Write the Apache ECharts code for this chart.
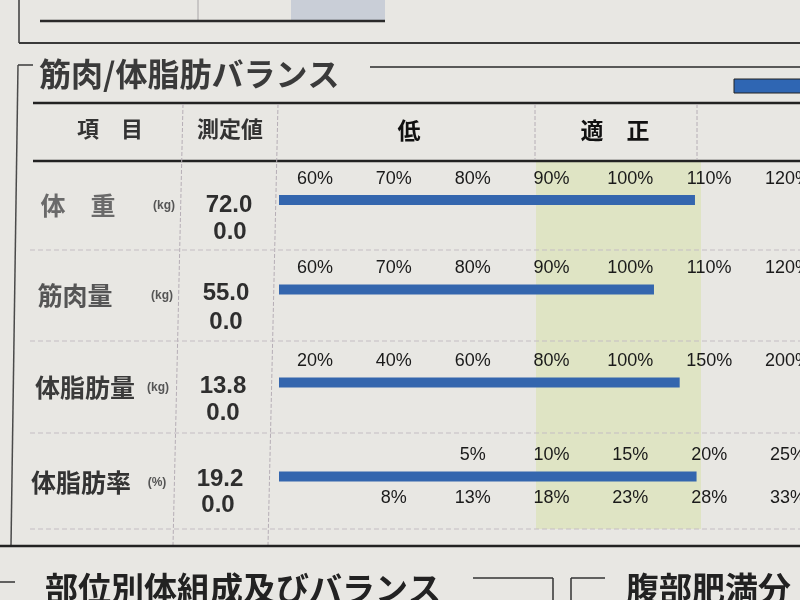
<!DOCTYPE html>
<html><head><meta charset="utf-8">
<script src="https://cdn.jsdelivr.net/npm/echarts@6/dist/echarts.min.js"></script>
<style>html,body{margin:0;padding:0;background:#e8e7e3}#c{width:800px;height:600px}</style>
</head><body><div id="c"></div>
<script>
// ---------- data ----------
const sectionTitle = '筋肉/体脂肪バランス';
const headerItem = '項　目';
const headerValue = '測定値';
const headerLow = '低';
const headerNormal = '適　正';
const items = ['体　重', '筋肉量', '体脂肪量', '体脂肪率'];
const units = ['(kg)', '(kg)', '(kg)', '(%)'];
const measured = ['72.0', '55.0', '13.8', '19.2'];
const previous = ['0.0', '0.0', '0.0', '0.0'];
// bar values, in each row's own scale (% of standard, last row: body-fat %)
const barValues = [108.2, 103.0, 131.3, 19.2];
// tick labels of each row
const ticksWeight = [60, 70, 80, 90, 100, 110, 120];
const ticksMuscle = [60, 70, 80, 90, 100, 110, 120];
const ticksFatMass = [20, 40, 60, 80, 100, 150, 200];
const ticksFatRateUpper = [5, 10, 15, 20, 25];
const ticksFatRateLower = [8, 13, 18, 23, 28, 33];
const nextTitle = '部位別体組成及びバランス';
const nextTitle2 = '腹部肥満分';

// ---------- scale slots (label k sits at slot k) ----------
const SLOT0 = 0.456;          // slot 0 offset from left edge of bar area
const AX_MAX = 6.608;         // bar area width in slots
const rowScales = [
  {ticks: ticksWeight, start: 0},
  {ticks: ticksMuscle, start: 0},
  {ticks: ticksFatMass, start: 0},
  {ticks: ticksFatRateUpper, start: 2}
];
const lowerScale = {ticks: ticksFatRateLower, start: 1};

function toSlot(v, sc) {
  const t = sc.ticks;
  let i = 0;
  while (i < t.length - 2 && v > t[i + 1]) i++;
  const k = i + (v - t[i]) / (t[i + 1] - t[i]);
  return SLOT0 + sc.start + k;
}

// ---------- layout ----------
const barCenters = [200, 289.5, 382.5, 476.5];
const GL = 279, GW = 521;
const FONT_NUM = "'Liberation Sans', Arial, sans-serif";
const FONT_JP = "'Noto Sans CJK JP', sans-serif";

function labelAxis(gi, sc, pos) {
  return {
    gridIndex: gi, type: 'value', min: 0, max: AX_MAX, position: pos,
    axisLine: {show: false}, axisTick: {show: false}, splitLine: {show: false},
    axisLabel: {
      show: true, margin: pos === 'top' ? 6 : 7,
      customValues: sc.ticks.map((t, i) => SLOT0 + sc.start + i),
      formatter: v => {
        const idx = Math.round(v - SLOT0) - sc.start;
        return sc.ticks[idx] !== undefined ? sc.ticks[idx] + '%' : '';
      },
      color: '#1a1a1a', fontSize: 18, fontFamily: FONT_NUM, hideOverlap: false
    }
  };
}

const grids = [], xAxes = [], yAxes = [], series = [];
barCenters.forEach((c, i) => {
  grids.push({left: GL, width: GW, top: c - 6, height: 12, outerBoundsMode: 'none', containLabel: false});
  xAxes.push(labelAxis(i, rowScales[i], 'top'));
  yAxes.push({gridIndex: i, type: 'category', data: [items[i]], show: false});
  series.push({
    type: 'bar', xAxisIndex: xAxes.length - 1, yAxisIndex: i,
    data: [toSlot(barValues[i], rowScales[i])],
    barWidth: 10, itemStyle: {color: '#3466ae'}, silent: true, z: 5
  });
});
xAxes.push(labelAxis(3, lowerScale, 'bottom'));

// ---------- form decoration ----------
const G = [];
function line(x1, y1, x2, y2, w, col, dash) {
  G.push({type: 'line', z: 1, shape: {x1, y1, x2, y2},
    style: {stroke: col, lineWidth: w, lineDash: dash || null}, silent: true});
}
function text(s, x, y, font, fill, align) {
  G.push({type: 'text', z: 10, x, y,
    style: {text: s, font, fill, align: align || 'center', verticalAlign: 'middle'}, silent: true});
}
// green normal-range band
G.push({type: 'rect', z: 0, shape: {x: 536, y: 162, width: 165, height: 367}, style: {fill: '#dfe4c4'}, silent: true});
// top leftover of previous section
G.push({type: 'rect', z: 0, shape: {x: 291, y: 0, width: 94, height: 20}, style: {fill: '#c9ced7'}, silent: true});
line(198, 0, 198, 20, 1, '#a9a6a8');
line(40, 21, 385, 21, 2.5, '#2a2a2a');
line(19, 0, 19, 43, 1.5, '#3a3a3a');
line(19, 43, 800, 43, 1.8, '#3a3a3a');
// section bracket
line(18, 65, 33, 65, 1.5, '#3a3a3a');
line(18, 65, 11, 545, 1.5, '#4a4a4a');
line(370, 67, 800, 67, 1.5, '#2a2a2a');
G.push({type: 'rect', z: 2, shape: {x: 734, y: 79, width: 70, height: 14},
  style: {fill: '#2f66b3', stroke: '#222', lineWidth: 1}, silent: true});
// header lines
line(33, 103, 800, 103, 2.5, '#222');
line(33, 161, 800, 161, 2.5, '#222');
// column dividers
line(183, 104, 173, 545, 1, '#b6aeb6', [4, 2]);
line(278, 104, 268, 545, 1, '#b6aeb6', [4, 2]);
line(535, 104, 535, 160, 1, '#b6aeb6', [4, 2]);
line(697, 104, 697, 160, 1, '#b6aeb6', [4, 2]);
// row separators
[250, 341, 433, 529].forEach(y => line(30, y, 800, y, 1, '#c4bdc3', [5, 3]));
line(0, 546, 800, 546, 2.5, '#222');
// next section bracket
line(0, 582, 15, 582, 1.5, '#333');
line(473, 578, 553, 578, 1.5, '#333');
line(553, 578, 553, 600, 1.5, '#333');
line(571, 578, 605, 578, 1.5, '#333');
line(571, 578, 571, 600, 1.5, '#333');

// texts
text(sectionTitle, 39, 74, "bold 32px " + FONT_JP, '#3a3a3a', 'left');
text(headerItem, 110, 129, "bold 22px " + FONT_JP, '#333');
text(headerValue, 230, 129, "bold 22px " + FONT_JP, '#333');
text(headerLow, 409, 130, "bold 23px " + FONT_JP, '#111');
text(headerNormal, 615, 130, "bold 23px " + FONT_JP, '#111');

const itemPos = [[78, 205], [75, 295], [85, 387], [81, 482]];
const unitPos = [[164, 206], [162, 296], [158, 388], [157, 483]];
const valPos = [[229, 205], [226, 293], [223, 386], [220, 479]];
const prevPos = [[230, 232], [226, 322], [223, 413], [218, 505]];
const itemCol = ['#6a6a6a', '#555', '#3a3a3a', '#333'];
items.forEach((s, i) => {
  text(s, itemPos[i][0], itemPos[i][1], "bold 25px " + FONT_JP, itemCol[i]);
  text(units[i], unitPos[i][0], unitPos[i][1], "bold 12px " + FONT_NUM, '#555');
  text(measured[i], valPos[i][0], valPos[i][1], "bold 24px " + FONT_NUM, '#2e2e2e');
  text(previous[i], prevPos[i][0], prevPos[i][1], "bold 24px " + FONT_NUM, '#2e2e2e');
});
text(nextTitle, 45, 588, "bold 33px " + FONT_JP, '#222', 'left');
text(nextTitle2, 626, 588, "bold 33px " + FONT_JP, '#222', 'left');

const chart = echarts.init(document.getElementById('c'), null, {renderer: 'canvas'});
chart.setOption({
  backgroundColor: '#e8e7e3',
  animation: false,
  grid: grids,
  xAxis: xAxes,
  yAxis: yAxes,
  series: series,
  graphic: {elements: G}
});
</script></body></html>
